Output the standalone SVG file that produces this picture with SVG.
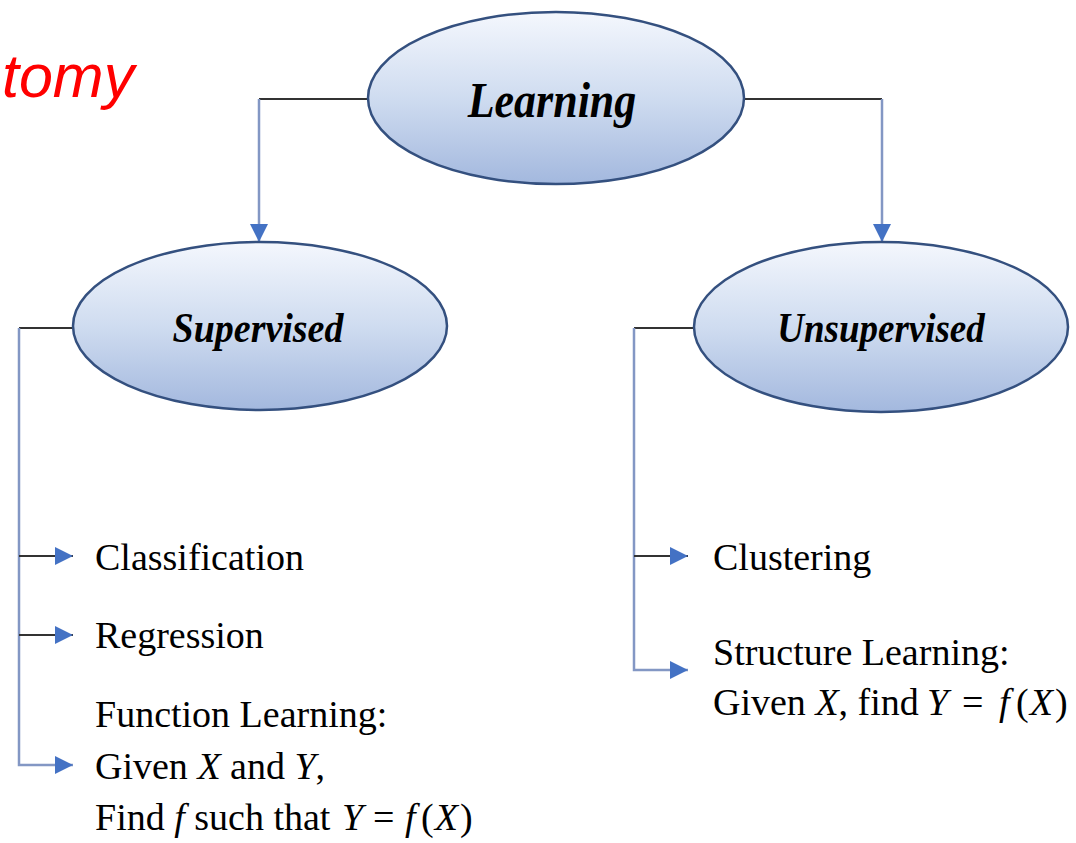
<svg xmlns="http://www.w3.org/2000/svg" width="1076" height="843" viewBox="0 0 1076 843">
  <defs>
    <linearGradient id="fillGrad" x1="0" y1="0" x2="0" y2="1">
      <stop offset="0" stop-color="#f4f7fd"/>
      <stop offset="0.5" stop-color="#cfdcf0"/>
      <stop offset="1" stop-color="#a3b8de"/>
    </linearGradient>
    <marker id="arr" viewBox="0 0 18 18" refX="18" refY="9" markerWidth="18" markerHeight="18" orient="auto" markerUnits="userSpaceOnUse">
      <path d="M0,0 L18,9 L0,18 z" fill="#4472c4"/>
    </marker>
    <style>
      .node { fill: url(#fillGrad); stroke: #34507f; stroke-width: 2.5; }
      .nlabel { font-family: "Liberation Serif", "Times New Roman", serif; font-weight: bold; font-style: italic; fill: #000; text-anchor: middle; }
      .dark { stroke: #333; stroke-width: 2; fill: none; }
      .blue { stroke: #8397c4; stroke-width: 2.5; fill: none; }
      .item { font-family: "Liberation Serif", "Times New Roman", serif; font-size: 38px; fill: #000; }
      .m { font-style: italic; }
      .title { font-family: "Liberation Sans", Arial, sans-serif; font-style: italic; font-size: 61px; fill: #ff0000; }
    </style>
  </defs>
  <rect width="1076" height="843" fill="#ffffff"/>

  <text class="title" x="2" y="97">tomy</text>

  <g id="connectors">
    <path class="dark" d="M367,99 H259"/>
    <path class="blue" d="M259,99 V242" marker-end="url(#arr)"/>
    <path class="dark" d="M745,99 H882"/>
    <path class="blue" d="M882,99 V242" marker-end="url(#arr)"/>

    <path class="dark" d="M73,328 H19"/>
    <path class="blue" d="M19,328 V765 H73" marker-end="url(#arr)"/>
    <path class="dark" d="M19,556 H73" marker-end="url(#arr)"/>
    <path class="dark" d="M19,635 H73" marker-end="url(#arr)"/>

    <path class="dark" d="M695,328 H634"/>
    <path class="blue" d="M634,328 V670 H688" marker-end="url(#arr)"/>
    <path class="dark" d="M634,556 H688" marker-end="url(#arr)"/>
  </g>

  <g id="learning">
    <ellipse class="node" cx="556" cy="98" rx="188" ry="86"/>
    <text class="nlabel" transform="translate(552,117) scale(1,1.15)" x="0" y="0" font-size="44">Learning</text>
  </g>

  <g id="supervised">
    <ellipse class="node" cx="260" cy="326" rx="187" ry="84"/>
    <text class="nlabel" transform="translate(258,342) scale(1,1.12)" x="0" y="0" font-size="38">Supervised</text>
  </g>

  <g id="unsupervised">
    <ellipse class="node" cx="881" cy="327" rx="187" ry="85"/>
    <text class="nlabel" transform="translate(881,342) scale(1,1.12)" x="0" y="0" font-size="37">Unsupervised</text>
  </g>

  <g id="classification">
    <text class="item" x="95" y="570">Classification</text>
  </g>
  <g id="regression">
    <text class="item" x="95" y="648">Regression</text>
  </g>
  <g id="function-learning">
    <text class="item" x="95" y="727">Function Learning:</text>
    <text class="item" x="95" y="779">Given <tspan class="m">X</tspan> and <tspan class="m">Y</tspan>,</text>
    <text class="item" x="95" y="830">Find <tspan class="m">f</tspan> such that <tspan class="m" x="342">Y</tspan><tspan x="373">=</tspan><tspan class="m" x="405">f</tspan><tspan x="421">(</tspan><tspan class="m" dx="1">X</tspan><tspan dx="2">)</tspan></text>
  </g>

  <g id="clustering">
    <text class="item" x="713" y="570">Clustering</text>
  </g>
  <g id="structure-learning">
    <text class="item" x="713" y="665">Structure Learning:</text>
    <text class="item" x="713" y="715">Given <tspan class="m">X</tspan>, find <tspan class="m" x="927">Y</tspan><tspan x="962">=</tspan><tspan class="m" x="999">f</tspan><tspan x="1016">(</tspan><tspan class="m" dx="1">X</tspan><tspan dx="2">)</tspan></text>
  </g>
</svg>
